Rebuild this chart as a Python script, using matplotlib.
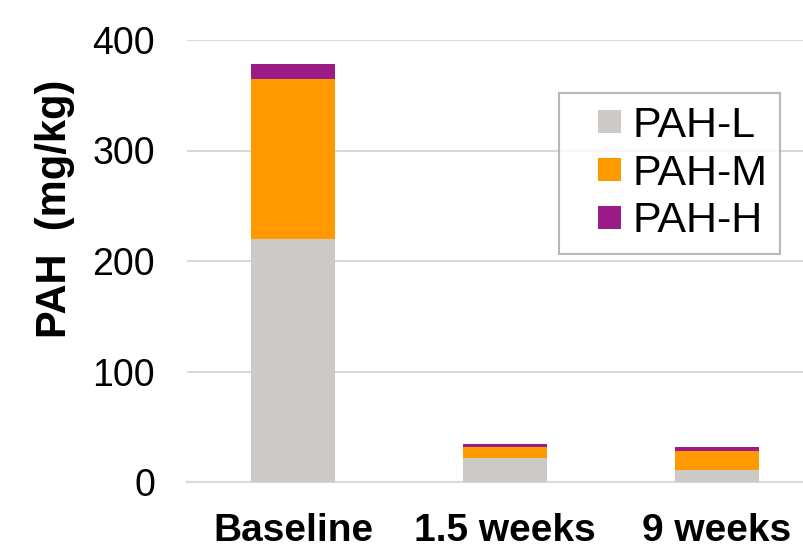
import matplotlib
matplotlib.use("Agg")
from matplotlib import pyplot as plt
import matplotlib.patches as mpatches
from matplotlib.container import BarContainer
from matplotlib.legend_handler import HandlerPatch, update_from_first_child
import numpy as np

plt.rcParams['font.family'] = ['Liberation Sans', 'DejaVu Sans']

categories = ['Baseline', '1.5 weeks', '9 weeks']
pah_l = [220, 22, 11]
pah_m = [145, 9.5, 17.5]
pah_h = [13, 3, 3.3]


def square(legend, orig_handle, xdescent, ydescent, width, height, fontsize):
    # small square at the right end of the handle box, like Excel
    s = 0.53 * fontsize
    return mpatches.Rectangle((width - s - xdescent, (height - s) / 2 - ydescent), s, s)


fig = plt.figure(figsize=(8.04, 5.48), dpi=100)
ax = fig.add_axes([187 / 804, 1 - 482 / 548, 1 - 187 / 804, (482 - 40) / 548])

x = np.arange(len(categories))
w = 0.4
ax.bar(x, pah_l, w, color='#cdc9c7', label='PAH-L', zorder=3)
ax.bar(x, pah_m, w, bottom=pah_l, color='#ff9900', label='PAH-M', zorder=3)
ax.bar(x, pah_h, w, bottom=np.add(pah_l, pah_m), color='#9b1b87', label='PAH-H', zorder=3)

ax.set_ylim(0, 400)
ax.set_xlim(-0.5, 2.41)
ax.set_yticks([0, 100, 200, 300, 400])
ax.yaxis.grid(True, color='#d9d9d9', linewidth=1.5, zorder=0)
ax.set_axisbelow(True)
for s in ['top', 'right', 'left']:
    ax.spines[s].set_visible(False)
ax.spines['bottom'].set_color('#d9d9d9')
ax.spines['bottom'].set_linewidth(1.5)
ax.tick_params(length=0)
ax.tick_params(axis='y', labelsize=27, pad=23)
ax.tick_params(axis='x', labelsize=28, pad=22)
ax.set_xticks(x)
ax.set_xticklabels(categories, fontweight='bold')
ax.set_ylabel('PAH  (mg/kg)', fontsize=30, fontweight='bold')
ax.yaxis.set_label_coords(-0.182, 0.618)

handler = HandlerPatch(patch_func=square, update_func=update_from_first_child)
leg = ax.legend(loc='upper right', bbox_to_anchor=((780 - 187) / 617, (482 - 93) / 442),
                fontsize=31, frameon=True, fancybox=False, handlelength=1.15,
                handleheight=0.7, handletextpad=0.25, borderpad=0.3, labelspacing=0.18,
                borderaxespad=0, handler_map={BarContainer: handler})
leg.get_frame().set_edgecolor('#a6a6a6')
leg.get_frame().set_linewidth(1.5)

fig.savefig('out.png', dpi=100)
